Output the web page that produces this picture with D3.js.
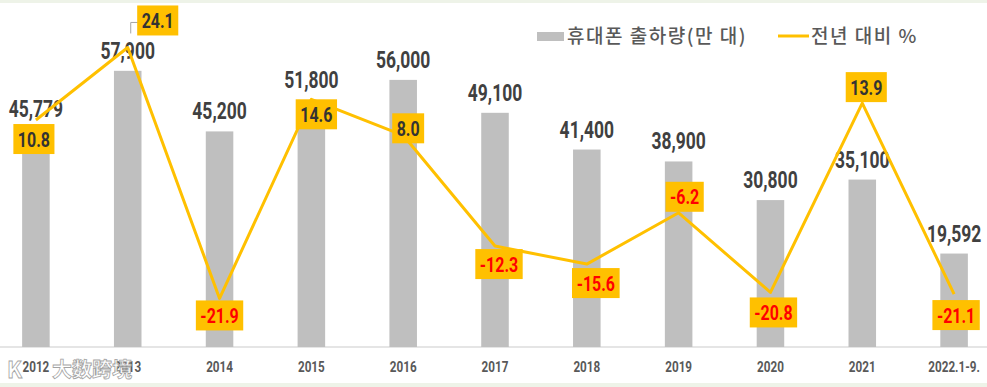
<!DOCTYPE html>
<html>
<head>
<meta charset="utf-8">
<script src="https://cdn.jsdelivr.net/npm/d3@7"></script>
<style>
  html, body { margin: 0; padding: 0; background: #fff; }
  svg { display: block; }
  .num { font-family: "Roboto", "Liberation Sans", sans-serif; font-weight: 700; }
  .kr { font-family: "Noto Sans CJK KR", "Noto Sans", sans-serif; }
</style>
</head>
<body>
<svg id="chart"></svg>
<script>
// --- Data ---
const categories = ['2012', '2013', '2014', '2015', '2016', '2017', '2018', '2019', '2020', '2021', '2022.1-9.'];
const shipments = [45779, 57900, 45200, 51800, 56000, 49100, 41400, 38900, 30800, 35100, 19592];
const yoyChange = [10.8, 24.1, -21.9, 14.6, 8.0, -12.3, -15.6, -6.2, -20.8, 13.9, -21.1];
const legendLabels = ['휴대폰 출하량(만 대)', '전년 대비 %'];

(function() {
  'use strict';

  const width = 987;
  const height = 387;
  const baseline = 347;

  const barColor = '#bfbfbf';
  const lineColor = '#ffc000';
  const textColor = '#404040';

  // condensed look: squeeze the digits horizontally
  const squeeze = 'scale(0.76,1)';

  const svg = d3.select('#chart')
    .attr('width', width)
    .attr('height', height);

  // --- Background bands ---
  svg.append('rect').attr('width', width).attr('height', height).attr('fill', '#fff');
  svg.append('rect').attr('width', width).attr('height', 3).attr('fill', '#eef3e8');
  svg.append('rect').attr('y', 383).attr('width', width).attr('height', 4).attr('fill', '#eef3e8');

  // --- Scales ---
  const x = d3.scaleBand()
    .domain(categories)
    .range([-10, 1000])
    .paddingInner(0.7)
    .paddingOuter(0.35);

  const yBar = d3.scaleLinear().domain([0, 72750]).range([baseline, 0]);
  const yLine = d3.scaleLinear().domain([-30.8, 32.8]).range([baseline, 0]);

  const cx = d => x(d) + x.bandwidth() / 2;

  // --- Axis ---
  const xAxis = svg.append('g')
    .attr('transform', `translate(0,${baseline})`)
    .call(d3.axisBottom(x).tickSize(0).tickPadding(14));
  xAxis.select('.domain').remove();
  xAxis.append('line')
    .attr('x1', 0).attr('x2', width)
    .attr('stroke', '#dcdcdc').attr('stroke-width', 1.5);
  xAxis.selectAll('.tick text')
    .attr('class', 'num')
    .attr('font-size', '15px')
    .attr('transform', 'scale(0.78,1)')
    .attr('fill', '#595959');

  // --- Bars ---
  svg.append('g').selectAll('rect')
    .data(categories)
    .join('rect')
    .attr('x', d => x(d))
    .attr('width', x.bandwidth())
    .attr('y', (d, i) => yBar(shipments[i]))
    .attr('height', (d, i) => baseline - yBar(shipments[i]))
    .attr('fill', barColor);

  // Bar value labels
  svg.append('g').selectAll('text')
    .data(categories)
    .join('text')
    .attr('class', 'num')
    .attr('transform', (d, i) => `translate(${cx(d)},${yBar(shipments[i]) - 12}) ${squeeze}`)
    .attr('text-anchor', 'middle')
    .attr('font-size', '23px')
    .attr('fill', textColor)
    .text((d, i) => d3.format(',')(shipments[i]));

  // --- Line ---
  const line = d3.line()
    .x(d => cx(d))
    .y((d, i) => yLine(yoyChange[i]));

  svg.append('path')
    .datum(categories)
    .attr('d', line)
    .attr('fill', 'none')
    .attr('stroke', lineColor)
    .attr('stroke-width', 3)
    .attr('stroke-linejoin', 'round');

  // Label box offsets from the point (box centre)
  const boxOffset = {
    '2012': [-2, 19], '2013': [30, -27], '2014': [0, 17], '2015': [5, 15],
    '2016': [5, -7], '2017': [4, 18], '2018': [9, 19], '2019': [6, -16],
    '2020': [3, 20], '2021': [4, -16], '2022.1-9.': [2, 21]
  };

  // Leader line for the 2013 label
  const p13x = cx('2013');
  const p13y = yLine(yoyChange[1]);
  svg.append('path')
    .attr('d', `M${p13x + 3},${p13y - 14} V${p13y - 25} H${p13x + 13}`)
    .attr('fill', 'none')
    .attr('stroke', '#a6a6a6')
    .attr('stroke-width', 1);

  const labels = svg.append('g').selectAll('g')
    .data(categories)
    .join('g')
    .attr('transform', (d, i) => {
      const off = boxOffset[d];
      return `translate(${cx(d) + off[0]},${yLine(yoyChange[i]) + off[1]})`;
    });

  labels.append('rect').attr('fill', lineColor);

  labels.append('text')
    .attr('class', 'num')
    .attr('text-anchor', 'middle')
    .attr('dy', '0.36em')
    .attr('font-size', '21px')
    .attr('transform', squeeze)
    .attr('fill', (d, i) => yoyChange[i] < 0 ? '#ff0000' : '#333')
    .text((d, i) => yoyChange[i].toFixed(1));

  labels.each(function() {
    const g = d3.select(this);
    const w = g.select('text').node().getBBox().width * 0.76 + 9;
    g.select('rect')
      .attr('x', -w / 2).attr('y', -15)
      .attr('width', w).attr('height', 30);
  });

  // --- Legend ---
  const legend = svg.append('g').attr('class', 'kr');
  legend.append('rect')
    .attr('x', 537).attr('y', 32).attr('width', 27).attr('height', 9)
    .attr('fill', barColor);
  legend.append('text')
    .attr('x', 567).attr('y', 36).attr('dy', '0.35em')
    .attr('font-size', '19px').attr('font-weight', 500)
    .attr('letter-spacing', '1.5px')
    .attr('fill', '#595959')
    .text(legendLabels[0]);
  legend.append('line')
    .attr('x1', 778).attr('x2', 809).attr('y1', 36).attr('y2', 36)
    .attr('stroke', lineColor).attr('stroke-width', 3);
  legend.append('text')
    .attr('x', 811).attr('y', 36).attr('dy', '0.35em')
    .attr('font-size', '19px').attr('font-weight', 500)
    .attr('letter-spacing', '1.5px')
    .attr('fill', '#595959')
    .text(legendLabels[1]);

  // --- Watermark ---
  const mark = svg.append('g')
    .attr('class', 'kr')
    .attr('font-weight', 700)
    .attr('fill', '#fff')
    .attr('stroke', '#9a9a9a')
    .attr('stroke-width', 0.8)
    .attr('opacity', 0.9);
  mark.append('text').attr('x', 7).attr('y', 378).attr('font-size', '22px').text('K');
  mark.append('text').attr('x', 52).attr('y', 377).attr('font-size', '20px').text('大数跨境');
})();
</script>
</body>
</html>
